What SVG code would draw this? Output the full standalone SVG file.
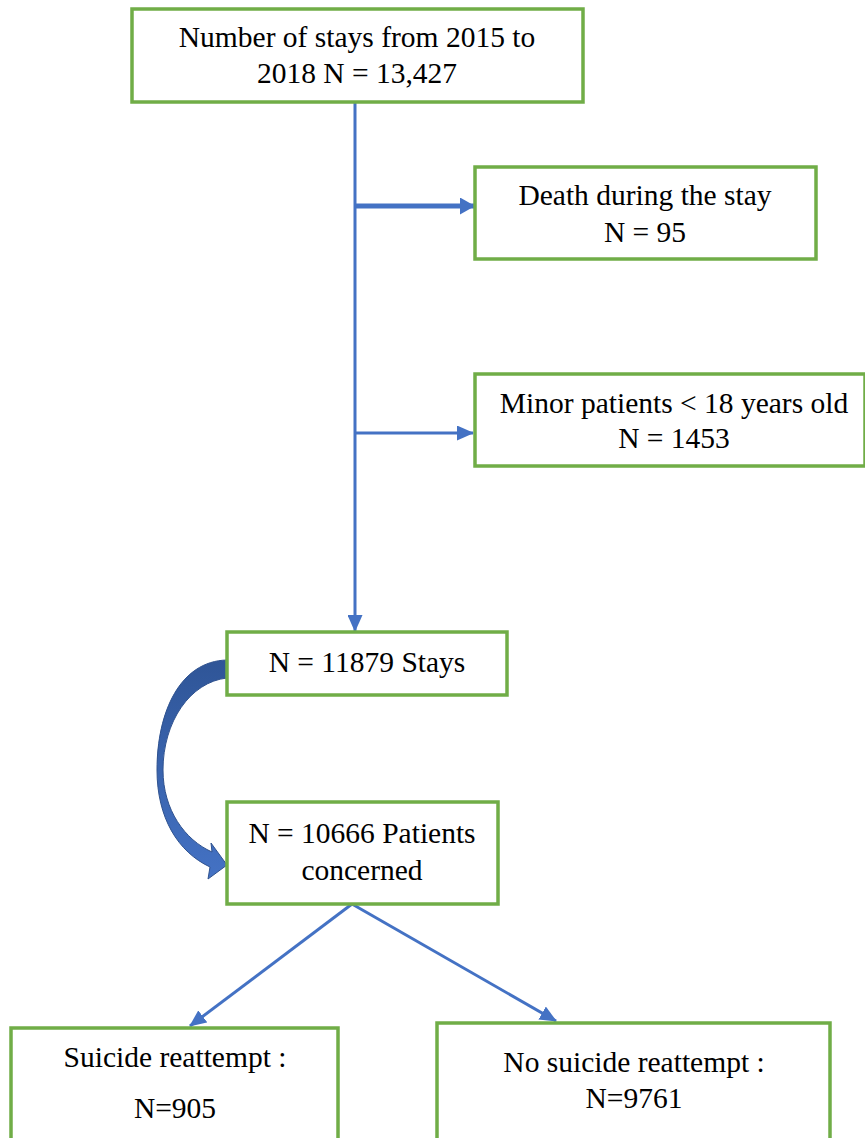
<svg xmlns="http://www.w3.org/2000/svg" width="865" height="1138" viewBox="0 0 865 1138">
<style>
.box{fill:#ffffff;stroke:#70ad47;stroke-width:3.5}
.t{font-family:"Liberation Serif","Times New Roman",serif;font-size:29.5px;fill:#000;text-anchor:middle}
.c{stroke:#4472c4;stroke-width:3;fill:none}
</style>
<defs>
<marker id="ah" markerWidth="17" markerHeight="15" refX="16" refY="7.5" orient="auto" markerUnits="userSpaceOnUse">
<path d="M0,0 L17,7.5 L0,15 Z" fill="#4472c4"/>
</marker>
<marker id="ah2" markerWidth="15" markerHeight="17" refX="14" refY="8.5" orient="auto" markerUnits="userSpaceOnUse">
<path d="M0,0 L15,8.5 L0,17 Z" fill="#4472c4"/>
</marker>
<linearGradient id="cg" x1="0" y1="0" x2="0" y2="1">
<stop offset="0" stop-color="#2f5597"/>
<stop offset="1" stop-color="#4472c4"/>
</linearGradient>
</defs>
<rect width="865" height="1138" fill="#ffffff"/>
<g id="connectors">
<line class="c" x1="355" y1="102" x2="355" y2="631" marker-end="url(#ah)"/>
<line class="c" x1="355" y1="206" x2="474" y2="206" style="stroke-width:5" marker-end="url(#ah2)"/>
<line class="c" x1="355" y1="433" x2="473" y2="433" marker-end="url(#ah)"/>
<line class="c" x1="352" y1="904" x2="190" y2="1026" marker-end="url(#ah)"/>
<line class="c" x1="352" y1="904" x2="556" y2="1021" marker-end="url(#ah)"/>
<path d="M227,660 C180,661 157,712 157,770 C157,818 178,852 210,867 L208,879 L227,865 L211,843 L212,852 C185,840 163,810 163,770 C163,722 190,682 227,678 Z" fill="url(#cg)" stroke="#2f528f" stroke-width="1"/>
</g>
<g id="n1">
<rect class="box" x="132" y="9" width="451" height="93"/>
<text class="t" x="357" y="47">Number of stays from 2015 to</text>
<text class="t" x="357" y="83">2018 N = 13,427</text>
</g>
<g id="n2">
<rect class="box" x="475" y="167" width="341" height="92"/>
<text class="t" x="645" y="205">Death during the stay</text>
<text class="t" x="645" y="242">N = 95</text>
</g>
<g id="n3">
<rect class="box" x="475" y="374" width="390" height="92"/>
<text class="t" x="674" y="413">Minor patients &lt; 18 years old</text>
<text class="t" x="674" y="448">N = 1453</text>
</g>
<g id="n4">
<rect class="box" x="227" y="632" width="280" height="63"/>
<text class="t" x="367" y="672">N = 11879 Stays</text>
</g>
<g id="n5">
<rect class="box" x="227" y="802" width="271" height="102"/>
<text class="t" x="362" y="843">N = 10666 Patients</text>
<text class="t" x="362" y="880">concerned</text>
</g>
<g id="n6">
<rect class="box" x="11" y="1028" width="327" height="120"/>
<text class="t" x="175" y="1067">Suicide reattempt :</text>
<text class="t" x="175" y="1118">N=905</text>
</g>
<g id="n7">
<rect class="box" x="437" y="1023" width="393" height="125"/>
<text class="t" x="634" y="1072">No suicide reattempt :</text>
<text class="t" x="634" y="1108">N=9761</text>
</g>
</svg>
